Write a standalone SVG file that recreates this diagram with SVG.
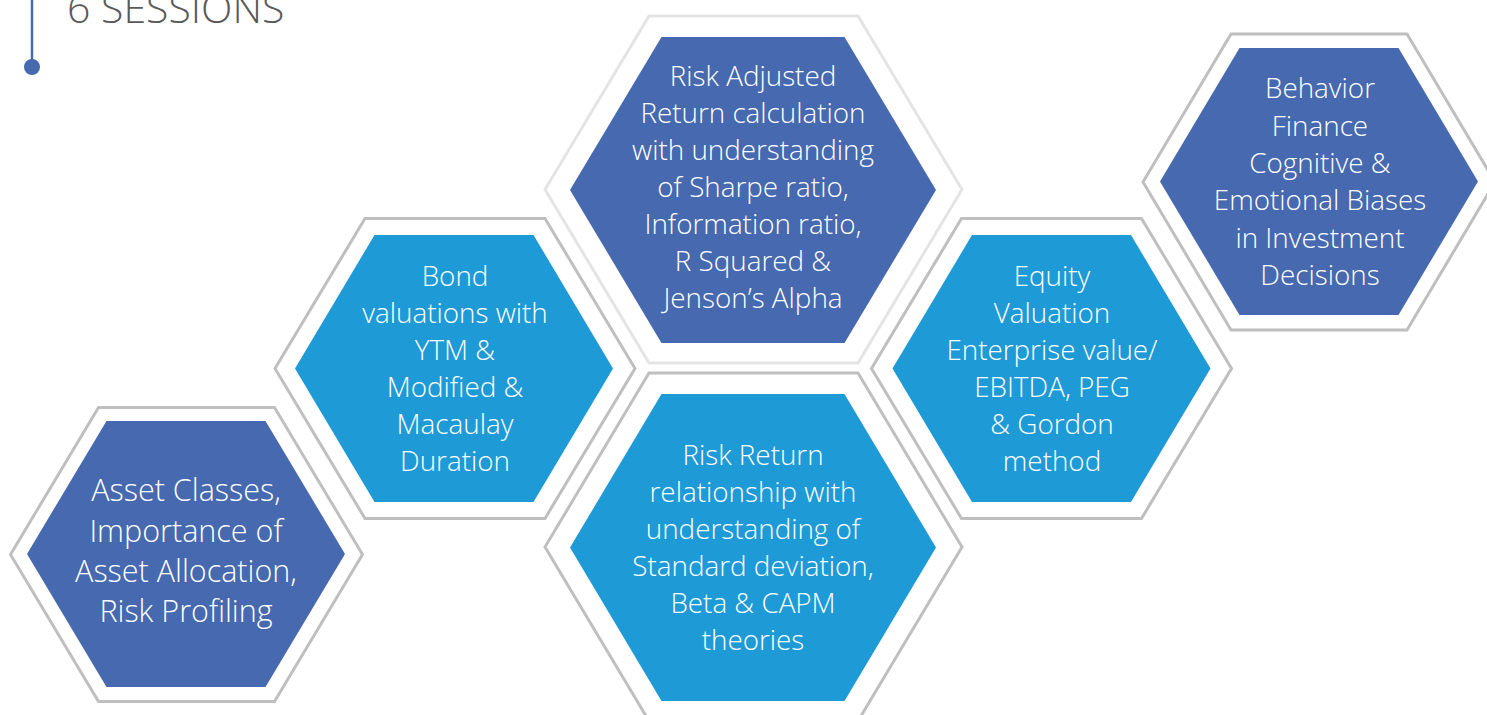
<svg xmlns="http://www.w3.org/2000/svg" width="1487" height="715" viewBox="0 0 1487 715">
<style>
.ol{fill:none;stroke:#bfbfbf;stroke-width:3}
.ol2{fill:none;stroke:#e4e4e4;stroke-width:3}
.dk{fill:#4669b0}
.lt{fill:#1e9ad6}
.t{font-family:"Open Sans",Lato,sans-serif;font-weight:300;font-size:27.8px;fill:#ffffff;text-anchor:middle}
.t1{font-size:30.5px}
</style>
<rect width="1487" height="715" fill="#ffffff"/>
<g id="title">
<line x1="32" y1="0" x2="32" y2="66" stroke="#4669b0" stroke-width="2.5"/>
<circle cx="32" cy="67" r="8" fill="#4669b0"/>
<text x="67" y="23" font-family="'Open Sans',Lato,sans-serif" font-weight="300" font-size="41" fill="#595959">6 SESSIONS</text>
</g>
<g id="connectors"></g>
<g id="hex1">
<polygon class="ol" points="10.5,554.5 98.5,407.5 274.5,407.5 362.5,554.5 274.5,701.5 98.5,701.5"/>
<polygon class="dk" points="27,554 106.5,421 265.5,421 345,554 265.5,687 106.5,687"/>
<text class="t t1" x="186" y="501">Asset Classes,</text>
<text class="t t1" x="186" y="542">Importance of</text>
<text class="t t1" x="186" y="582">Asset Allocation,</text>
<text class="t t1" x="186" y="622">Risk Profiling</text>
</g>
<g id="hex2">
<polygon class="ol" points="275,368.5 365,218.5 545,218.5 635,368.5 545,518.5 365,518.5"/>
<polygon class="lt" points="295,368.5 374.5,235 533.5,235 613,368.5 533.5,502 374.5,502"/>
<text class="t" x="455" y="286">Bond</text>
<text class="t" x="455" y="323">valuations with</text>
<text class="t" x="455" y="360">YTM &amp;</text>
<text class="t" x="455" y="397">Modified &amp;</text>
<text class="t" x="455" y="434">Macaulay</text>
<text class="t" x="455" y="471">Duration</text>
</g>
<g id="hex3">
<polygon class="ol2" points="545,189.5 649,16 858,16 962,189.5 858,363 649,363"/>
<polygon class="dk" points="570,190 661.5,37 844.5,37 936,190 844.5,343 661.5,343"/>
<text class="t" x="753" y="86">Risk Adjusted</text>
<text class="t" x="753" y="123">Return calculation</text>
<text class="t" x="753" y="160">with understanding</text>
<text class="t" x="753" y="197">of Sharpe ratio,</text>
<text class="t" x="753" y="234">Information ratio,</text>
<text class="t" x="753" y="271">R Squared &amp;</text>
<text class="t" x="753" y="308">Jenson’s Alpha</text>
</g>
<g id="hex4">
<polygon class="ol" points="545,547 649,373 858,373 962,547 858,721 649,721"/>
<polygon class="lt" points="570,547.5 661.5,394 844.5,394 936,547.5 844.5,701 661.5,701"/>
<text class="t" x="753" y="465">Risk Return</text>
<text class="t" x="753" y="502">relationship with</text>
<text class="t" x="753" y="539">understanding of</text>
<text class="t" x="753" y="576">Standard deviation,</text>
<text class="t" x="753" y="613">Beta &amp; CAPM</text>
<text class="t" x="753" y="650">theories</text>
</g>
<g id="hex5">
<polygon class="ol" points="871.5,368.5 961.5,218.5 1141.5,218.5 1231.5,368.5 1141.5,518.5 961.5,518.5"/>
<polygon class="lt" points="892.5,368.5 972,235 1131,235 1210.5,368.5 1131,502 972,502"/>
<text class="t" x="1052" y="286">Equity</text>
<text class="t" x="1052" y="323">Valuation</text>
<text class="t" x="1052" y="360">Enterprise value/</text>
<text class="t" x="1052" y="397">EBITDA, PEG</text>
<text class="t" x="1052" y="434">&amp; Gordon</text>
<text class="t" x="1052" y="471">method</text>
</g>
<g id="hex6">
<polygon class="ol" points="1143,182 1231,34 1407,34 1495,182 1407,330 1231,330"/>
<polygon class="dk" points="1160,181.5 1239.5,48 1398.5,48 1478,181.5 1398.5,315 1239.5,315"/>
<text class="t" x="1320" y="98">Behavior</text>
<text class="t" x="1320" y="136">Finance</text>
<text class="t" x="1320" y="173">Cognitive &amp;</text>
<text class="t" x="1320" y="210">Emotional Biases</text>
<text class="t" x="1320" y="248">in Investment</text>
<text class="t" x="1320" y="285">Decisions</text>
</g>
</svg>
